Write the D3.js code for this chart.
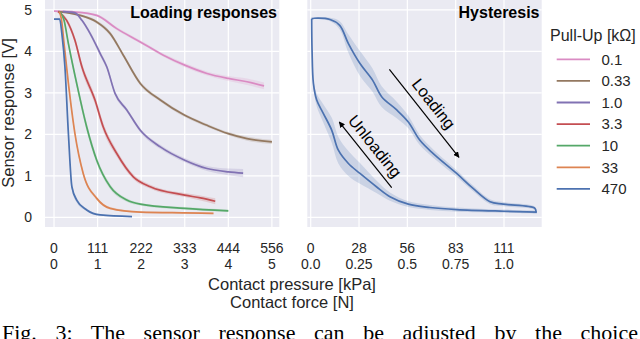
<!DOCTYPE html>
<html>
<head>
<meta charset="utf-8">
<script src="https://d3js.org/d3.v7.min.js"></script>
<style>
  body { margin: 0; background: #fff; }
  text { font-family: "Liberation Sans", Arial, sans-serif; }
  text.caption { font-family: "Liberation Serif", "Times New Roman", serif; }
</style>
</head>
<body>
<svg id="chart" width="640" height="339"></svg>
<script>
// ---- data ----
var pullUps = ["0.1", "0.33", "1.0", "3.3", "10", "33", "470"];
var colors = ["#DA8BC3", "#937860", "#8172B3", "#C44E52", "#55A868", "#DD8452", "#4C72B0"];

var voltTicks = [0, 1, 2, 3, 4, 5];
var forceTicksL = [0, 1, 2, 3, 4, 5];
var forceLabelsL = ["0", "1", "2", "3", "4", "5"];
var pressLabelsL = ["0", "111", "222", "333", "444", "556"];
var forceTicksR = [0, 0.25, 0.5, 0.75, 1.0];
var forceLabelsR = ["0.0", "0.25", "0.5", "0.75", "1.0"];
var pressLabelsR = ["0", "28", "56", "83", "111"];

// [force N, voltage V, band half-width V]
var load01 = [[0, 4.97, 0.02], [0.5, 4.95, 0.02], [0.98, 4.87, 0.03], [1.44, 4.55, 0.04], [1.98, 4.23, 0.04],
  [2.51, 3.91, 0.04], [3.0, 3.67, 0.05], [3.51, 3.47, 0.05], [4.0, 3.35, 0.06], [4.43, 3.27, 0.08], [4.82, 3.17, 0.08]];
var load033 = [[0.1, 4.96, 0.02], [0.6, 4.87, 0.03], [0.98, 4.71, 0.04], [1.29, 4.43, 0.05], [1.59, 3.91, 0.05],
  [1.98, 3.23, 0.05], [2.44, 2.83, 0.04], [3.0, 2.46, 0.04], [3.51, 2.22, 0.04], [4.0, 2.02, 0.04], [4.43, 1.9, 0.05], [5.0, 1.82, 0.05]];
var load10 = [[0.2, 4.96, 0.02], [0.48, 4.93, 0.03], [0.64, 4.75, 0.04], [0.83, 4.43, 0.05], [1.06, 3.95, 0.06], [1.21, 3.63, 0.06],
  [1.4, 2.99, 0.06], [1.67, 2.59, 0.05], [1.98, 2.1, 0.05], [2.44, 1.7, 0.05], [3.0, 1.38, 0.05], [3.51, 1.18, 0.06], [4.0, 1.1, 0.08], [4.34, 1.07, 0.1]];
var load33 = [[0.09, 4.96, 0.02], [0.29, 4.75, 0.05], [0.48, 4.27, 0.08], [0.64, 3.63, 0.1], [0.94, 2.83, 0.1], [1.13, 2.18, 0.1],
  [1.44, 1.54, 0.08], [1.82, 0.98, 0.06], [2.21, 0.74, 0.05], [3.0, 0.54, 0.05], [3.36, 0.47, 0.06], [3.7, 0.39, 0.07]];
var load100 = [[0.12, 4.96, 0.02], [0.23, 4.75, 0.05], [0.33, 4.19, 0.08], [0.52, 3.23, 0.1], [0.75, 2.18, 0.1], [0.98, 1.38, 0.08],
  [1.29, 0.74, 0.06], [1.67, 0.42, 0.04], [1.98, 0.32, 0.03], [3.0, 0.22, 0.03], [4.0, 0.16, 0.03]];
var load330 = [[0.12, 4.96, 0.02], [0.17, 4.78, 0.04], [0.23, 4.19, 0.06], [0.33, 3.23, 0.07], [0.48, 2.02, 0.07], [0.67, 1.06, 0.06],
  [0.98, 0.46, 0.04], [1.29, 0.22, 0.03], [1.98, 0.13, 0.02], [3.0, 0.11, 0.02], [3.66, 0.1, 0.02]];
var load4700 = [[0, 4.78, 0.02], [0.13, 4.78, 0.03], [0.18, 4.43, 0.06], [0.25, 3.63, 0.08], [0.33, 2.02, 0.1], [0.41, 0.74, 0.08],
  [0.52, 0.42, 0.06], [0.75, 0.18, 0.03], [1.06, 0.06, 0.02], [1.79, 0.02, 0.01]];
var loadingSeries = [load01, load033, load10, load33, load100, load330, load4700];

var hystLoading = [[0.005, 4.79, 0.02], [0.02, 4.8, 0.02], [0.1, 4.77, 0.04], [0.15, 4.63, 0.1], [0.195, 4.19, 0.22],
  [0.255, 3.71, 0.3], [0.32, 3.31, 0.28], [0.367, 2.91, 0.25], [0.445, 2.59, 0.2], [0.505, 2.3, 0.15], [0.565, 1.86, 0.12],
  [0.634, 1.54, 0.1], [0.755, 1.06, 0.08], [0.84, 0.7, 0.07], [0.928, 0.38, 0.06], [0.996, 0.32, 0.05], [1.16, 0.22, 0.04], [1.165, 0.13, 0.04]];
var hystUnloading = [[1.17, 0.13, 0.04], [1.0, 0.15, 0.04], [0.755, 0.19, 0.05], [0.617, 0.24, 0.06], [0.505, 0.32, 0.07],
  [0.41, 0.5, 0.1], [0.34, 0.74, 0.15], [0.255, 1.06, 0.25], [0.195, 1.3, 0.3], [0.143, 1.62, 0.32], [0.109, 2.1, 0.3],
  [0.065, 2.51, 0.22], [0.031, 2.83, 0.15], [0.014, 3.23, 0.08], [0.007, 4.03, 0.04], [0.005, 4.79, 0.02]];

// annotation arrows in data units [F0, V0, F1, V1]
var loadArrow = [0.407, 3.57, 0.767, 1.45];
var unloadArrow = [0.419, 0.72, 0.148, 2.30];

// ---- layout ----
var svg = d3.select("#chart");
var bg = "#EAEAF2";

var y = d3.scaleLinear().domain([-0.23, 5.24]).range([227, 0]);
var xL = d3.scaleLinear().domain([-0.207, 5.17]).range([45, 279.3]);
var xR = d3.scaleLinear().domain([-0.0176, 1.195]).range([307.3, 541.7]);

svg.append("rect").attr("width", 640).attr("height", 339).attr("fill", "#fff");

var defs = svg.append("defs");
defs.append("marker").attr("id", "head")
  .attr("viewBox", "0 0 10 10").attr("refX", 9).attr("refY", 5)
  .attr("markerWidth", 5).attr("markerHeight", 5).attr("orient", "auto")
  .append("path").attr("d", "M0,0 L10,5 L0,10 z").attr("fill", "#000");

function panel(x, ticks) {
  var g = svg.append("g");
  var r = x.range(), yr = y.range();
  g.append("rect").attr("x", r[0]).attr("y", yr[1]).attr("width", r[1] - r[0]).attr("height", yr[0] - yr[1]).attr("fill", bg);
  g.selectAll(".hg").data(voltTicks).enter().append("line")
    .attr("x1", r[0]).attr("x2", r[1]).attr("y1", d => y(d)).attr("y2", d => y(d))
    .attr("stroke", "#fff").attr("stroke-width", 1.2);
  g.selectAll(".vg").data(ticks).enter().append("line")
    .attr("y1", yr[0]).attr("y2", yr[1]).attr("x1", d => x(d)).attr("x2", d => x(d))
    .attr("stroke", "#fff").attr("stroke-width", 1.2);
  return g;
}

var gL = panel(xL, forceTicksL);
var gR = panel(xR, forceTicksR);

function drawSeries(g, x, data, color, curve) {
  var area = d3.area().curve(curve).x(d => x(d[0])).y0(d => y(d[1] - d[2])).y1(d => y(d[1] + d[2]));
  var line = d3.line().curve(curve).x(d => x(d[0])).y(d => y(d[1]));
  g.append("path").attr("d", area(data)).attr("fill", color).attr("fill-opacity", 0.2);
  g.append("path").attr("d", line(data)).attr("fill", "none").attr("stroke", color)
    .attr("stroke-width", 1.7).attr("stroke-linejoin", "round");
}

loadingSeries.forEach(function (s, i) { drawSeries(gL, xL, s, colors[i], d3.curveMonotoneX); });
drawSeries(gR, xR, hystLoading, colors[6], d3.curveCatmullRom.alpha(0.5));
drawSeries(gR, xR, hystUnloading, colors[6], d3.curveCatmullRom.alpha(0.5));

// arrows + labels
function arrow(a, label, off) {
  var x0 = xR(a[0]), y0 = y(a[1]), x1 = xR(a[2]), y1 = y(a[3]);
  gR.append("line").attr("x1", x0).attr("y1", y0).attr("x2", x1).attr("y2", y1)
    .attr("stroke", "#000").attr("stroke-width", 1.2).attr("marker-end", "url(#head)");
  var ang = Math.atan2(Math.abs(y1 - y0), Math.abs(x1 - x0)) * 180 / Math.PI;
  var cx = (x0 + x1) / 2 + off[0], cy = (y0 + y1) / 2 + off[1];
  gR.append("text").attr("transform", "translate(" + cx + "," + cy + ") rotate(" + ang + ")")
    .attr("text-anchor", "middle").attr("font-size", 16.5).attr("fill", "#000").text(label);
}
arrow(loadArrow, "Loading", [5, -6]);
arrow(unloadArrow, "Unloading", [5, -5]);

// titles
svg.append("text").attr("x", 277).attr("y", 17.5).attr("text-anchor", "end")
  .attr("font-size", 16).attr("font-weight", "bold").text("Loading responses");
svg.append("text").attr("x", 539.5).attr("y", 17.5).attr("text-anchor", "end")
  .attr("font-size", 16).attr("font-weight", "bold").text("Hysteresis");

// y ticks and label
svg.selectAll(".yt").data(voltTicks).enter().append("text")
  .attr("x", 32).attr("y", d => y(d) + 5).attr("text-anchor", "end")
  .attr("font-size", 14).attr("fill", "#262626").text(d => d);
svg.append("text").attr("transform", "translate(14,113) rotate(-90)").attr("text-anchor", "middle")
  .attr("font-size", 16.5).attr("fill", "#262626").text("Sensor response [V]");

// x ticks (two rows)
function xTicks(x, ticks, press, force) {
  svg.selectAll(null).data(ticks).enter().append("text")
    .attr("x", d => x(d)).attr("y", 253).attr("text-anchor", "middle")
    .attr("font-size", 14).attr("fill", "#262626").text((d, i) => press[i]);
  svg.selectAll(null).data(ticks).enter().append("text")
    .attr("x", d => x(d)).attr("y", 268.5).attr("text-anchor", "middle")
    .attr("font-size", 14).attr("fill", "#262626").text((d, i) => force[i]);
}
xTicks(xL, forceTicksL, pressLabelsL, forceLabelsL);
xTicks(xR, forceTicksR, pressLabelsR, forceLabelsR);

svg.append("text").attr("x", 292).attr("y", 290).attr("text-anchor", "middle")
  .attr("font-size", 16.5).attr("fill", "#262626").text("Contact pressure [kPa]");
svg.append("text").attr("x", 292).attr("y", 307.5).attr("text-anchor", "middle")
  .attr("font-size", 16.5).attr("fill", "#262626").text("Contact force [N]");

// legend
var lg = svg.append("g");
lg.append("text").attr("x", 550).attr("y", 41).attr("font-size", 16).attr("fill", "#262626").text("Pull-Up [k\u03A9]");
pullUps.forEach(function (p, i) {
  var cy = 59.3 + i * 21.6;
  lg.append("line").attr("x1", 556.7).attr("x2", 590).attr("y1", cy).attr("y2", cy)
    .attr("stroke", colors[i]).attr("stroke-width", 1.8);
  lg.append("text").attr("x", 601.5).attr("y", cy + 5.3).attr("font-size", 15).attr("fill", "#262626").text(p);
});

// caption (justified line, bottom edge of the figure)
var capText = "Fig. 3: The sensor response can be adjusted by the choice";
var cap = svg.append("text").attr("class", "caption").attr("x", 2).attr("y", 340)
  .attr("font-size", 22).attr("fill", "#000").text(capText);
var w = cap.node().getComputedTextLength();
var gaps = capText.split(" ").length - 1;
cap.attr("word-spacing", Math.max(0, (636 - w) / gaps));
</script>
</body>
</html>
